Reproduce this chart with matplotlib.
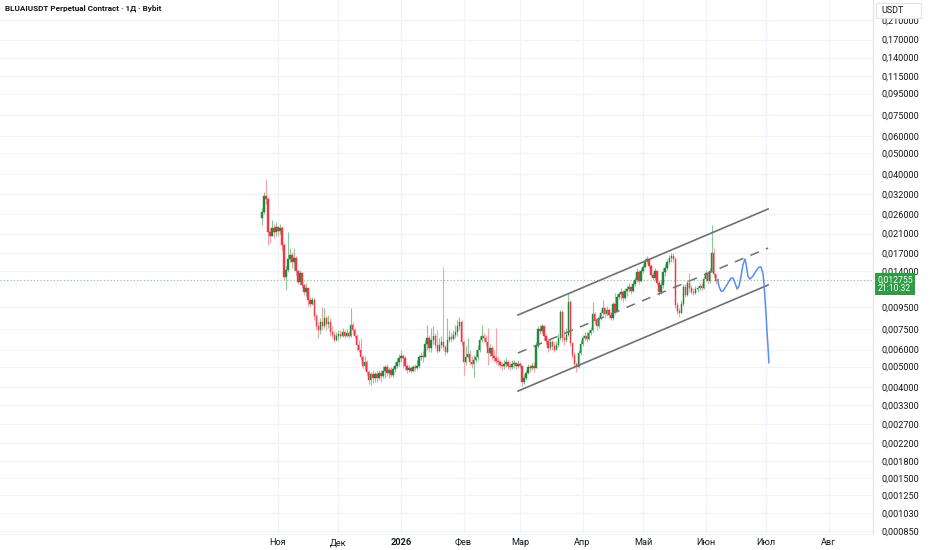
import numpy as np
import pandas as pd
import matplotlib
matplotlib.use("Agg")
import matplotlib.pyplot as plt
import matplotlib.dates as mdates
from matplotlib.patches import Rectangle

plt.rcParams['font.family'] = ['Roboto', 'DejaVu Sans']

# daily candles, BLUAIUSDT, from 2025-10-24
first_day = "2025-10-24"
first_open = 0.02482
close = [
    0.02648, 0.03147, 0.03047, 0.02134, 0.02044, 0.02228, 0.02134, 0.02252,
    0.02157, 0.02228, 0.01855, 0.01313, 0.01416, 0.01595, 0.01665, 0.01544,
    0.01612, 0.01401, 0.01244, 0.01371, 0.01205, 0.01117, 0.01166, 0.01025,
    0.00982, 0.01025, 0.00862, 0.00774, 0.00742, 0.00808, 0.00774, 0.00844,
    0.00791, 0.00808, 0.00726, 0.00703, 0.00666, 0.00695, 0.00710, 0.00695,
    0.00726, 0.00695, 0.00718, 0.00695, 0.00783, 0.00742, 0.00695, 0.00631,
    0.00598, 0.00555, 0.00503, 0.00525, 0.00472, 0.00433, 0.00462, 0.00442,
    0.00462, 0.00442, 0.00467, 0.00452, 0.00477, 0.00498, 0.00467, 0.00482,
    0.00457, 0.00487, 0.00503, 0.00525, 0.00549, 0.00561, 0.00549, 0.00503,
    0.00482, 0.00493, 0.00477, 0.00498, 0.00493, 0.00503, 0.00555, 0.00561,
    0.00555, 0.00638, 0.00680, 0.00611, 0.00666, 0.00695, 0.00631, 0.00591,
    0.00631, 0.00651, 0.00617, 0.00585, 0.00666, 0.00688, 0.00673, 0.00703,
    0.00726, 0.00774, 0.00808, 0.00651, 0.00525, 0.00555, 0.00573, 0.00525,
    0.00514, 0.00537, 0.00555, 0.00598, 0.00666, 0.00695, 0.00680, 0.00651,
    0.00579, 0.00611, 0.00561, 0.00549, 0.00531, 0.00525, 0.00509, 0.00503,
    0.00514, 0.00525, 0.00503, 0.00498, 0.00514, 0.00520, 0.00503, 0.00514,
    0.00503, 0.00424, 0.00442, 0.00467, 0.00498, 0.00493, 0.00503, 0.00493,
    0.00624, 0.00750, 0.00734, 0.00774, 0.00695, 0.00659, 0.00611, 0.00651,
    0.00624, 0.00598, 0.00631, 0.00680, 0.00900, 0.00680, 0.00666, 0.00703,
    0.01003, 0.00645, 0.00567, 0.00514, 0.00498, 0.00579, 0.00638, 0.00680,
    0.00695, 0.00673, 0.00718, 0.00742, 0.00881, 0.00817, 0.00774, 0.00844,
    0.00891, 0.00940, 0.00881, 0.00920, 0.00872, 0.00844, 0.00982, 0.00900,
    0.01059, 0.01093, 0.01117, 0.01047, 0.01129, 0.01154, 0.01179, 0.01129,
    0.01218, 0.01272, 0.01386, 0.01258, 0.01401, 0.01463, 0.01561, 0.01595,
    0.01479, 0.01342, 0.01299, 0.01401, 0.01231, 0.01117, 0.01205, 0.01386,
    0.01447, 0.01544, 0.01612, 0.01647, 0.01595, 0.00971, 0.00910, 0.00891,
    0.00982, 0.01179, 0.01082, 0.01231, 0.01166, 0.01117, 0.01105, 0.01154,
    0.01166, 0.01192, 0.01166, 0.01285, 0.01371, 0.01258, 0.01401, 0.01701,
    0.01356, 0.01258, 0.012755,
]
high = [
    0.02765, 0.03285, 0.03780, 0.03113, 0.02228, 0.02429, 0.02326, 0.02377,
    0.02277, 0.02326, 0.02277, 0.01895, 0.01479, 0.02134, 0.01796, 0.01720,
    0.01796, 0.01647, 0.01416, 0.01416, 0.01386, 0.01218, 0.01231, 0.01166,
    0.01059, 0.01059, 0.01047, 0.00881, 0.00808, 0.00844, 0.00950, 0.00940,
    0.00862, 0.00872, 0.00844, 0.00774, 0.00734, 0.00726, 0.00742, 0.00742,
    0.00758, 0.00742, 0.00750, 0.00734, 0.00940, 0.00808, 0.00758, 0.00710,
    0.00666, 0.00680, 0.00567, 0.00561, 0.00537, 0.00482, 0.00472, 0.00482,
    0.00472, 0.00482, 0.00482, 0.00482, 0.00503, 0.00509, 0.00514, 0.00498,
    0.00498, 0.00503, 0.00525, 0.00549, 0.00573, 0.00598, 0.00573, 0.00561,
    0.00514, 0.00509, 0.00498, 0.00509, 0.00514, 0.00537, 0.00567, 0.00585,
    0.00591, 0.00666, 0.00783, 0.00703, 0.00758, 0.00774, 0.00718, 0.00742,
    0.00680, 0.00695, 0.01463, 0.00631, 0.00844, 0.00742, 0.00726, 0.00742,
    0.00783, 0.00826, 0.00853, 0.00826, 0.00666, 0.00624, 0.00680, 0.00598,
    0.00561, 0.00567, 0.00598, 0.00631, 0.00695, 0.00783, 0.00718, 0.00703,
    0.00758, 0.00638, 0.00624, 0.00598, 0.00758, 0.00561, 0.00537, 0.00525,
    0.00537, 0.00549, 0.00537, 0.00525, 0.00537, 0.00537, 0.00525, 0.00537,
    0.00525, 0.00503, 0.00462, 0.00482, 0.00514, 0.00514, 0.00525, 0.00525,
    0.00651, 0.00774, 0.00783, 0.00791, 0.00758, 0.00710, 0.00680, 0.00680,
    0.00666, 0.00651, 0.00659, 0.00710, 0.00920, 0.00920, 0.00742, 0.00758,
    0.01105, 0.01025, 0.00645, 0.00585, 0.00525, 0.00598, 0.00666, 0.00703,
    0.00726, 0.00726, 0.00742, 0.00766, 0.01003, 0.00900, 0.00844, 0.00872,
    0.00920, 0.01025, 0.00950, 0.00961, 0.00940, 0.00900, 0.01003, 0.01105,
    0.01093, 0.01117, 0.01166, 0.01142, 0.01166, 0.01205, 0.01231, 0.01192,
    0.01272, 0.01313, 0.01447, 0.01416, 0.01447, 0.01511, 0.01612, 0.01647,
    0.01612, 0.01511, 0.01386, 0.01447, 0.01416, 0.01272, 0.01272, 0.01447,
    0.01511, 0.01595, 0.01665, 0.01701, 0.01701, 0.01630, 0.01003, 0.00940,
    0.01025, 0.01218, 0.01218, 0.01272, 0.01371, 0.01205, 0.01166, 0.01192,
    0.01192, 0.01231, 0.01231, 0.01327, 0.01416, 0.01386, 0.01447, 0.02301,
    0.01796, 0.01356, 0.01299,
]
low = [
    0.02301, 0.02591, 0.02886, 0.01855, 0.01895, 0.02044, 0.02001, 0.02044,
    0.02044, 0.02089, 0.01757, 0.01272, 0.01142, 0.01386, 0.01544, 0.01447,
    0.01416, 0.01342, 0.01218, 0.01205, 0.01166, 0.01082, 0.01070, 0.00961,
    0.00950, 0.00971, 0.00826, 0.00742, 0.00680, 0.00710, 0.00742, 0.00758,
    0.00742, 0.00758, 0.00695, 0.00680, 0.00651, 0.00659, 0.00666, 0.00680,
    0.00688, 0.00680, 0.00688, 0.00680, 0.00688, 0.00710, 0.00680, 0.00598,
    0.00585, 0.00537, 0.00493, 0.00482, 0.00457, 0.00415, 0.00410, 0.00419,
    0.00424, 0.00424, 0.00433, 0.00424, 0.00442, 0.00442, 0.00452, 0.00442,
    0.00447, 0.00447, 0.00472, 0.00493, 0.00503, 0.00525, 0.00493, 0.00482,
    0.00467, 0.00472, 0.00467, 0.00472, 0.00477, 0.00487, 0.00493, 0.00537,
    0.00525, 0.00555, 0.00598, 0.00585, 0.00585, 0.00638, 0.00611, 0.00579,
    0.00585, 0.00611, 0.00598, 0.00567, 0.00579, 0.00651, 0.00651, 0.00666,
    0.00680, 0.00695, 0.00742, 0.00631, 0.00457, 0.00509, 0.00549, 0.00509,
    0.00493, 0.00447, 0.00525, 0.00537, 0.00585, 0.00651, 0.00651, 0.00624,
    0.00509, 0.00561, 0.00537, 0.00525, 0.00514, 0.00503, 0.00493, 0.00482,
    0.00487, 0.00498, 0.00487, 0.00482, 0.00487, 0.00493, 0.00487, 0.00493,
    0.00493, 0.00406, 0.00415, 0.00433, 0.00462, 0.00472, 0.00482, 0.00472,
    0.00493, 0.00611, 0.00710, 0.00718, 0.00666, 0.00638, 0.00585, 0.00598,
    0.00598, 0.00585, 0.00604, 0.00617, 0.00666, 0.00651, 0.00631, 0.00651,
    0.00695, 0.00624, 0.00549, 0.00493, 0.00472, 0.00493, 0.00567, 0.00624,
    0.00666, 0.00651, 0.00666, 0.00703, 0.00726, 0.00791, 0.00742, 0.00758,
    0.00826, 0.00872, 0.00844, 0.00862, 0.00844, 0.00826, 0.00826, 0.00881,
    0.00900, 0.01036, 0.01025, 0.01003, 0.01025, 0.01070, 0.01117, 0.01093,
    0.01117, 0.01192, 0.01244, 0.01218, 0.01244, 0.01371, 0.01447, 0.01527,
    0.01447, 0.01313, 0.01272, 0.01272, 0.01205, 0.01082, 0.01093, 0.01166,
    0.01327, 0.01416, 0.01511, 0.01544, 0.01544, 0.00940, 0.00881, 0.00853,
    0.00891, 0.00961, 0.01059, 0.01070, 0.01117, 0.01093, 0.01082, 0.01093,
    0.01117, 0.01142, 0.01142, 0.01154, 0.01258, 0.01218, 0.01231, 0.01386,
    0.01313, 0.01218, 0.01244,
]

# price scale labels and months on the time scale
price_levels = [0.21, 0.17, 0.14, 0.115, 0.095, 0.075, 0.06, 0.05, 0.04,
                0.032, 0.026, 0.021, 0.017, 0.014, 0.0095, 0.0075, 0.006,
                0.005, 0.004, 0.0033, 0.0027, 0.0022, 0.0018, 0.0015,
                0.00125, 0.00103, 0.00085]
month_starts = ["2025-11-01", "2025-12-01", "2026-01-01", "2026-02-01",
                "2026-03-01", "2026-04-01", "2026-05-01", "2026-06-01",
                "2026-07-01", "2026-08-01"]
month_labels = ["Ноя", "Дек", "2026", "Фев", "Мар", "Апр", "Май", "Июн",
                "Июл", "Авг"]

# drawn rising channel
channel_dates = ["2026-02-28", "2026-07-02"]
channel_upper = [0.00872, 0.02735]
channel_mid = [0.00579, 0.01796]
channel_lower = [0.00384, 0.01205]

# hand drawn forecast path: days after the last candle, price
path_days = [0, 0.6, 1.6, 2.6, 3.6, 5.1, 6.6, 7.6, 8.6, 9.6, 10.6, 11.6,
             12.5, 13.5, 14.0, 15.0, 16.0, 17.5, 19.0, 20.5, 21.5, 22.5,
             23.0, 23.5, 24.0, 24.4, 24.9, 25.4]
path_price = [0.012755, 0.01192, 0.01129, 0.01129, 0.01166, 0.01231, 0.01299,
              0.01299, 0.01231, 0.01154, 0.01192, 0.01327, 0.01495, 0.01595,
              0.01527, 0.01327, 0.01285, 0.01327, 0.01401, 0.01463, 0.01463,
              0.01356, 0.01205, 0.01025, 0.00872, 0.00742, 0.00631, 0.00520]

last_price_text = "0,012755\n21:10:32"
title = "BLUAIUSDT Perpetual Contract · 1Д · Bybit"

c_up = "#1f8a3b"
c_dn = "#f23645"
c_up_wick = "#8cc79a"
c_dn_wick = "#f7a1a8"
grid_c = "#f0f3fa"
text_c = "#131722"

close = np.array(close)
high = np.array(high)
low = np.array(low)
opens = np.concatenate([[first_open], close[:-1]])
days = mdates.date2num(pd.date_range(first_day, periods=len(close), freq="D"))
up = close >= opens

fig = plt.figure(figsize=(9.32, 5.5), dpi=100)
ax = fig.add_axes([0, 16 / 550, 873 / 932, 534 / 550])
ax.set_yscale("log")

nov1 = mdates.date2num(pd.Timestamp("2025-11-01"))
ax.set_xlim(nov1 - 137.8, nov1 + 295.0)
ax.set_ylim(0.000822, 0.2605)

# grid
ax.set_yticks(price_levels)
ax.yaxis.set_minor_locator(matplotlib.ticker.NullLocator())
ax.set_yticklabels([f"{v:.6f}".replace(".", ",") for v in price_levels])
ax.set_xticks(mdates.date2num(pd.to_datetime(month_starts)))
ax.set_xticklabels(month_labels)
ax.grid(True, color=grid_c, lw=0.9, zorder=0)
ax.set_axisbelow(True)
ax.yaxis.tick_right()
ax.tick_params(axis="y", length=0, pad=6, labelsize=6.6, labelcolor=text_c)
ax.tick_params(axis="x", length=0, pad=3, labelsize=6.6, labelcolor=text_c)
ax.get_xticklabels()[2].set_fontweight("bold")
for s in ["top", "left"]:
    ax.spines[s].set_visible(False)
ax.spines["right"].set_color("#e0e3eb")
ax.spines["bottom"].set_color("#f0f3fa")

# candles
ax.vlines(days, low, high, colors=np.where(up, c_up_wick, c_dn_wick),
          lw=0.8, zorder=2)
ax.bar(days, np.abs(close - opens), bottom=np.minimum(opens, close),
       width=0.75, color=np.where(up, c_up, c_dn),
       edgecolor=np.where(up, c_up, c_dn), lw=0.3, zorder=3)

# last price line
ax.axhline(close[-1], color="#7cc28a", lw=0.8, ls=(0, (1, 2)), zorder=1)

# channel
cd = mdates.date2num(pd.to_datetime(channel_dates))
ax.plot(cd, channel_upper, color="#707070", lw=1.2, zorder=4)
ax.plot(cd, channel_lower, color="#707070", lw=1.2, zorder=4)
ax.plot(cd, channel_mid, color="#707070", lw=1.1, ls=(0, (6, 5)), zorder=4)

# forecast
ax.plot(days[-1] + np.array(path_days), path_price, color="#5b8def",
        lw=1.1, zorder=5, solid_capstyle="round")

ax.text(0.0057, 0.985, title, transform=ax.transAxes, fontsize=5.9,
        fontweight="bold", color=text_c, va="center", ha="left")

# last price label on price scale
ax.annotate(last_price_text, xy=(1.0, close[-1]),
            xycoords=("axes fraction", "data"), xytext=(3, -3.2),
            textcoords="offset points", ha="left", va="center",
            fontsize=6.2, color="white", linespacing=0.95,
            bbox=dict(boxstyle="square,pad=0.22", fc="#2f9b45", ec="none"),
            annotation_clip=False, zorder=10)

# currency box
fig.patches.append(Rectangle((876 / 932, 1 - 18 / 550), 45 / 932, 15 / 550,
                             transform=fig.transFigure, fc="white",
                             ec="#e0e3eb", lw=0.8, zorder=5))
fig.text(881 / 932, 1 - 10.5 / 550, "USDT", fontsize=6.5, color=text_c,
         ha="left", va="center", zorder=6)

fig.savefig("out.png", dpi=100)
